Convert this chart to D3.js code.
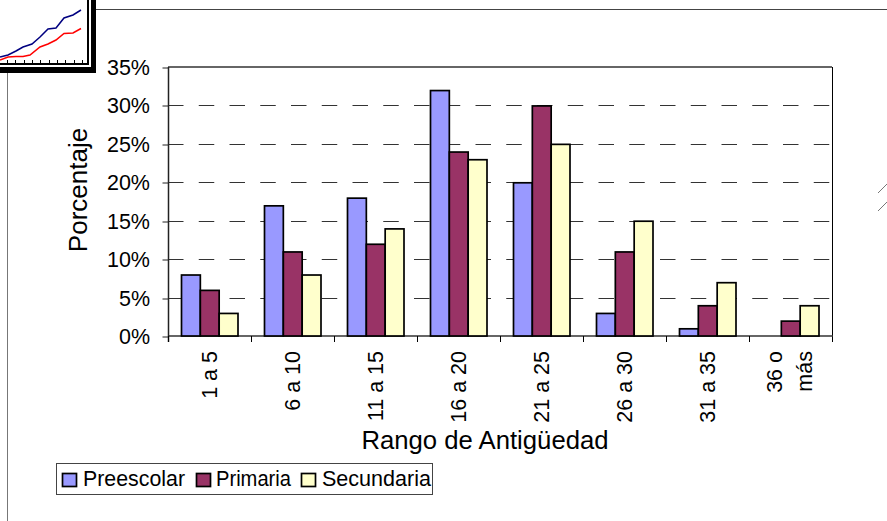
<!DOCTYPE html>
<html><head><meta charset="utf-8">
<script src="https://cdn.jsdelivr.net/npm/d3@7"></script>
<style>html,body{margin:0;padding:0;background:#fff}svg{display:block}text{font-family:"Liberation Sans",Arial,sans-serif;fill:#000}</style>
</head><body><svg id="c" width="887" height="521"></svg>
<script>
const categories=["1 a 5","6 a 10","11 a 15","16 a 20","21 a 25","26 a 30","31 a 35","36 o|más"];
const seriesNames=["Preescolar","Primaria","Secundaria"];
const preescolar=[8,17,18,32,20,3,1,0];
const primaria=[6,11,12,24,30,11,4,2];
const secundaria=[3,8,14,23,25,15,7,4];
const seriesValues=[preescolar,primaria,secundaria];
const colors=["#9999ff","#993366","#ffffcc"];
const yTicks=[0,5,10,15,20,25,30,35];
const thumbBlueX=[0,8,16,23,32,40,48,56,64,73,81];
const thumbBlueY=[57,55,51,47,44,37,29,28,18,15,10];
const thumbRedX=[0,8,16,23,30,40,48,56,64,73,81];
const thumbRedY=[60,57,56.5,56.5,55,47,44,40,33.5,33,28.5];
const thumbTicks=[7,15,24,32,40,49,57,65,74,82];

const svg=d3.select("#c");
const x0=d3.scaleBand().domain(categories).range([168,832]);
const x1=d3.scaleBand().domain(d3.range(3)).range([13.5,70]);
const y=d3.scaleLinear().domain([0,35]).range([336,67]);

// page decoration
svg.append("line").attr("x1",96).attr("x2",887).attr("y1",9.5).attr("y2",9.5).attr("stroke","#444");
svg.append("line").attr("x1",7.5).attr("x2",7.5).attr("y1",73).attr("y2",521).attr("stroke","#777");
[[878,193,887,184],[878,211,887,202]].forEach(d=>svg.append("line").attr("x1",d[0]).attr("y1",d[1]).attr("x2",d[2]).attr("y2",d[3]).attr("stroke","#777"));

// thumbnail frame
[[96,73,"#000"],[91,67,"#fff"],[89,65,"#000"],[87,63,"#fff"]].forEach(d=>svg.append("rect").attr("x",0).attr("y",0).attr("width",d[0]).attr("height",d[1]).attr("fill",d[2]));
const ln=d3.line().x(d=>d[0]).y(d=>d[1]);
svg.append("path").attr("d",ln(d3.zip(thumbBlueX,thumbBlueY))).attr("fill","none").attr("stroke","#000080").attr("stroke-width",1.5);
svg.append("path").attr("d",ln(d3.zip(thumbRedX,thumbRedY))).attr("fill","none").attr("stroke","#ff0000").attr("stroke-width",1.5);
thumbTicks.forEach(t=>svg.append("line").attr("x1",t+.5).attr("x2",t+.5).attr("y1",60).attr("y2",63).attr("stroke","#000"));

// grid
const grid=svg.append("g");
grid.selectAll("line").data(yTicks.slice(1,-1)).join("line")
 .attr("x1",168).attr("x2",832).attr("y1",d=>Math.round(y(d))+.5).attr("y2",d=>Math.round(y(d))+.5)
 .attr("stroke","#333").attr("stroke-dasharray","15.5 15.25");

// axes
const ay=d3.axisLeft(y).tickValues(yTicks).tickSize(6).tickFormat(d=>d+"%");
const gy=svg.append("g").attr("transform","translate(168.5,0)").call(ay);
gy.select(".domain").remove();
gy.selectAll("line").attr("stroke","#222").attr("transform",d=>`translate(0,${Math.round(y(d))+.5-y(d)})`);
gy.selectAll("text").attr("font-size",21.5).attr("fill","#000").attr("font-family",'"Liberation Sans"').attr("dy","0.35em").attr("x",-18.5);
svg.append("line").attr("x1",168).attr("x2",832).attr("y1",67).attr("y2",67).attr("stroke","#333").attr("stroke-width",1.5);
svg.append("line").attr("x1",832.5).attr("x2",832.5).attr("y1",67).attr("y2",342).attr("stroke","#000");
svg.append("line").attr("x1",168).attr("x2",833).attr("y1",336).attr("y2",336).attr("stroke","#333").attr("stroke-width",1.5);
svg.append("line").attr("x1",168.5).attr("x2",168.5).attr("y1",67).attr("y2",342).attr("stroke","#222").attr("stroke-width",1.5);
categories.forEach(c=>svg.append("line").attr("x1",Math.round(x0(c))+.5).attr("x2",Math.round(x0(c))+.5).attr("y1",336).attr("y2",342).attr("stroke","#000"));

// bars
seriesValues.forEach((vals,s)=>{
 svg.append("g").selectAll("rect").data(vals.map((v,i)=>({v,c:categories[i]})).filter(d=>d.v>0)).join("rect")
  .attr("x",d=>x0(d.c)+x1(s)).attr("width",x1.bandwidth())
  .attr("y",d=>y(d.v)+.5).attr("height",d=>336-y(d.v)-.5)
  .attr("fill",colors[s]).attr("stroke","#000").attr("stroke-width",1.7);
});

// category labels
categories.forEach(c=>{
 const parts=c.split("|"), cx=x0(c)+x0.bandwidth()/2;
 parts.forEach((p,i)=>{
  const lx=cx+(parts.length>1?(i===0?-9:21):7);
  svg.append("text").attr("transform",`translate(${lx},351) rotate(-90)`)
   .attr("text-anchor","end").attr("font-size",21.5).text(p);
 });
});

// titles
svg.append("text").attr("transform","translate(87,190) rotate(-90)").attr("text-anchor","middle").attr("font-size",26).text("Porcentaje");
svg.append("text").attr("x",485).attr("y",449).attr("text-anchor","middle").attr("font-size",25.7).text("Rango de Antigüedad");

// legend
svg.append("rect").attr("x",56.5).attr("y",463.5).attr("width",376).attr("height",31).attr("fill","#fff").attr("stroke","#444");
const lx=[62,196,301], tx=[83,216,322], tw=[102,75,109];
seriesNames.forEach((n,i)=>{
 svg.append("rect").attr("x",lx[i]+.5).attr("y",473.5).attr("width",14).attr("height",13).attr("fill",colors[i]).attr("stroke","#000").attr("stroke-width",1.7);
 svg.append("text").attr("x",tx[i]).attr("y",486).attr("font-size",21.5).attr("textLength",tw[i]).attr("lengthAdjust","spacingAndGlyphs").text(n);
});
</script></body></html>
